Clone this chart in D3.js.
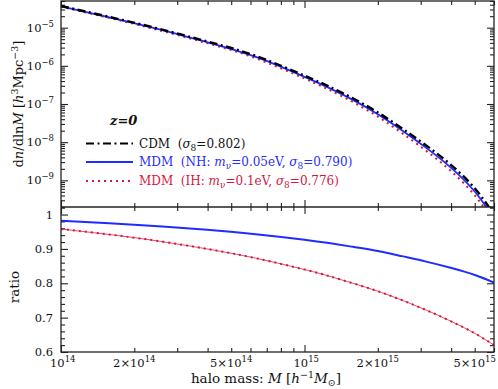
<!DOCTYPE html>
<html>
<head>
<meta charset="utf-8">
<script src="https://cdn.jsdelivr.net/npm/d3@7"></script>
<style>
  html, body { margin: 0; padding: 0; background: #fff; }
  svg { display: block; }
  text { font-family: "DejaVu Serif", "Liberation Serif", serif; fill: #111; }
</style>
</head>
<body>
<svg id="chart" width="498" height="389"></svg>
<script>
// ---------------- data ----------------
const mass = [1.0e14, 1.58e14, 2.51e14, 3.98e14, 6.31e14, 1.0e15, 1.26e15, 1.58e15, 2.0e15, 2.51e15, 3.16e15, 3.98e15, 5.01e15, 6.0e15];
const cdm  = [3.70e-5, 1.91e-5, 9.44e-6, 4.37e-6, 1.82e-6, 5.53e-7, 2.89e-7, 1.41e-7, 6.01e-8, 2.32e-8, 8.20e-9, 2.59e-9, 6.10e-10, 1.25e-10];
const mdmNH = [3.63e-5, 1.86e-5, 9.12e-6, 4.17e-6, 1.71e-6, 5.13e-7, 2.65e-7, 1.28e-7, 5.37e-8, 2.04e-8, 7.08e-9, 2.19e-9, 5.01e-10, 1.00e-10];
const mdmIH = [3.54e-5, 1.80e-5, 8.71e-6, 3.93e-6, 1.58e-6, 4.65e-7, 2.37e-7, 1.13e-7, 4.67e-8, 1.74e-8, 5.92e-9, 1.79e-9, 3.99e-10, 7.75e-11];
const ratioNH = [0.982, 0.9745, 0.966, 0.956, 0.943, 0.927, 0.917, 0.906, 0.894, 0.879, 0.863, 0.845, 0.824, 0.802];
const ratioIH = [0.958, 0.942, 0.923, 0.900, 0.873, 0.840, 0.821, 0.800, 0.777, 0.751, 0.722, 0.690, 0.654, 0.620];

const massMajorTicks = [1e14, 1e15];
const massMinorTicks = [2e14, 3e14, 4e14, 5e14, 6e14, 7e14, 8e14, 9e14, 2e15, 3e15, 4e15, 5e15, 6e15];
const massTickLabels = [
  {v: 1e14, base: "10", exp: "14"},
  {v: 2e14, base: "2×10", exp: "14"},
  {v: 5e14, base: "5×10", exp: "14"},
  {v: 1e15, base: "10", exp: "15"},
  {v: 2e15, base: "2×10", exp: "15"},
  {v: 5e15, base: "5×10", exp: "15"}
];
const nDecades = [1e-5, 1e-6, 1e-7, 1e-8, 1e-9];
const nDecadeExp = ["−5", "−6", "−7", "−8", "−9"];
const ratioMajorTicks = [0.6, 0.7, 0.8, 0.9, 1.0];
const ratioTickLabels = ["0.6", "0.7", "0.8", "0.9", "1"];
const ratioMinorTicks = [0.62,0.64,0.66,0.68,0.72,0.74,0.76,0.78,0.82,0.84,0.86,0.88,0.92,0.94,0.96,0.98,1.02];

// ---------------- layout ----------------
const L = 61, R = 494, T = 1, MID = 207, B = 352;
const BLUE = "#1f2cff", RED = "#d6163f", BLACK = "#000";

const svg = d3.select("#chart");

const x = d3.scaleLog().domain([1e14, 6e15]).range([L, R]);
const yTop = d3.scaleLog().domain([2e-10, 5e-5]).range([MID, T]);
const yRat = d3.scaleLinear().domain([0.6, 1.022]).range([B, MID]);

const nMinorTicks = [];
for (let e = -10; e <= -5; e++) for (let k = 2; k <= 9; k++) {
  const v = k * Math.pow(10, e);
  if (v >= 2e-10 && v <= 5e-5) nMinorTicks.push(v);
}

const defs = svg.append("defs");
defs.append("clipPath").attr("id", "clipTop").append("rect")
  .attr("x", L).attr("y", T).attr("width", R - L).attr("height", MID - T);
defs.append("clipPath").attr("id", "clipRat").append("rect")
  .attr("x", L).attr("y", MID).attr("width", R - L).attr("height", B - MID);

// ---------------- axes ticks ----------------
function ticks(axis, tx, ty, values, size) {
  const g = svg.append("g").attr("transform", `translate(${tx},${ty})`)
    .call(axis.tickValues(values).tickSize(size).tickSizeOuter(0).tickFormat(""));
  g.select(".domain").remove();
  g.selectAll("line").attr("stroke", "#222").attr("stroke-width", 1.1);
  return g;
}
const MAJ = -7, MIN = -4;
ticks(d3.axisLeft(yTop), L, 0, nDecades, MAJ);
ticks(d3.axisLeft(yTop), L, 0, nMinorTicks, MIN);
ticks(d3.axisRight(yTop), R, 0, nDecades, MAJ);
ticks(d3.axisRight(yTop), R, 0, nMinorTicks, MIN);
ticks(d3.axisTop(x), 0, T, massMajorTicks, MAJ);
ticks(d3.axisTop(x), 0, T, massMinorTicks, MIN);
ticks(d3.axisBottom(x), 0, MID, massMajorTicks, MAJ);
ticks(d3.axisBottom(x), 0, MID, massMinorTicks, MIN);
ticks(d3.axisTop(x), 0, MID, massMajorTicks, MAJ);
ticks(d3.axisTop(x), 0, MID, massMinorTicks, MIN);
ticks(d3.axisBottom(x), 0, B, massMajorTicks, MAJ);
ticks(d3.axisBottom(x), 0, B, massMinorTicks, MIN);
ticks(d3.axisLeft(yRat), L, 0, ratioMajorTicks, MAJ);
ticks(d3.axisLeft(yRat), L, 0, ratioMinorTicks, MIN);
ticks(d3.axisRight(yRat), R, 0, ratioMajorTicks, MAJ);
ticks(d3.axisRight(yRat), R, 0, ratioMinorTicks, MIN);

// ---------------- curves ----------------
const idx = d3.range(mass.length);
function lineFor(yScale, arr) {
  return d3.line().x(i => x(mass[i])).y(i => yScale(arr[i])).curve(d3.curveNatural)(idx);
}
const gTop = svg.append("g").attr("clip-path", "url(#clipTop)");
gTop.append("path").attr("d", lineFor(yTop, mdmIH)).attr("fill", "none")
  .attr("stroke", RED).attr("stroke-width", 2).attr("stroke-dasharray", "2,4");
gTop.append("path").attr("d", lineFor(yTop, mdmNH)).attr("fill", "none")
  .attr("stroke", BLUE).attr("stroke-width", 1.8);
gTop.append("path").attr("d", lineFor(yTop, cdm)).attr("fill", "none")
  .attr("stroke", BLACK).attr("stroke-width", 2.4).attr("stroke-dasharray", "8,3.5,2,3.5");

const gRat = svg.append("g").attr("clip-path", "url(#clipRat)");
gRat.append("path").attr("d", lineFor(yRat, ratioIH)).attr("fill", "none")
  .attr("stroke", RED).attr("stroke-width", 1).attr("stroke-opacity", 0.75);
gRat.append("path").attr("d", lineFor(yRat, ratioIH)).attr("fill", "none")
  .attr("stroke", RED).attr("stroke-width", 2).attr("stroke-dasharray", "2,4");
gRat.append("path").attr("d", lineFor(yRat, ratioNH)).attr("fill", "none")
  .attr("stroke", BLUE).attr("stroke-width", 2);

// ---------------- frames ----------------
svg.append("rect").attr("x", L).attr("y", T).attr("width", R - L).attr("height", B - T)
  .attr("fill", "none").attr("stroke", "#222").attr("stroke-width", 1.3);
svg.append("line").attr("x1", L).attr("x2", R).attr("y1", MID).attr("y2", MID)
  .attr("stroke", "#222").attr("stroke-width", 1.3);

// ---------------- tick labels ----------------
const TF = 11.5, SF = 8.5;
nDecades.forEach((v, i) => {
  const t = svg.append("text").attr("x", 54).attr("y", yTop(v) + 4)
    .attr("text-anchor", "end").attr("font-size", TF);
  t.append("tspan").text("10");
  t.append("tspan").attr("dy", -5).attr("font-size", SF).text(nDecadeExp[i]);
});
ratioMajorTicks.forEach((v, i) => {
  svg.append("text").attr("x", 53).attr("y", yRat(v) + 4)
    .attr("text-anchor", "end").attr("font-size", TF).text(ratioTickLabels[i]);
});
massTickLabels.forEach(d => {
  const plain = d.base === "10";
  const t = svg.append("text").attr("y", 367).attr("font-size", TF)
    .attr("x", plain ? x(d.v) - 11 : x(d.v))
    .attr("text-anchor", plain ? "start" : "middle");
  t.append("tspan").text(d.base);
  t.append("tspan").attr("dy", -5).attr("font-size", SF).text(d.exp);
});

// ---------------- axis titles ----------------
const yt = svg.append("text").attr("transform", "translate(23,104) rotate(-90)")
  .attr("text-anchor", "middle").attr("font-size", 13);
yt.append("tspan").text("d");
yt.append("tspan").attr("font-style", "italic").text("n");
yt.append("tspan").text("/dln");
yt.append("tspan").attr("font-style", "italic").text("M");
yt.append("tspan").text(" [");
yt.append("tspan").attr("font-style", "italic").text("h");
yt.append("tspan").attr("dy", -5).attr("font-size", 9.5).text("3");
yt.append("tspan").attr("dy", 5).text("Mpc");
yt.append("tspan").attr("dy", -5).attr("font-size", 9.5).text("−3");
yt.append("tspan").attr("dy", 5).text("]");

svg.append("text").attr("transform", "translate(19,287) rotate(-90)")
  .attr("text-anchor", "middle").attr("font-size", 13.5).text("ratio");

const xt = svg.append("text").attr("x", 266).attr("y", 383)
  .attr("text-anchor", "middle").attr("font-size", 13.5);
xt.append("tspan").text("halo mass: ");
xt.append("tspan").attr("font-style", "italic").text("M");
xt.append("tspan").text(" [");
xt.append("tspan").attr("font-style", "italic").text("h");
xt.append("tspan").attr("dy", -5).attr("font-size", 9.5).text("−1");
xt.append("tspan").attr("dy", 5).attr("font-style", "italic").text("M");
xt.append("tspan").attr("dy", 3).attr("font-size", 9.5).text("⊙");
xt.append("tspan").attr("dy", -3).text("]");

// ---------------- legend ----------------
svg.append("text").attr("x", 110).attr("y", 125).attr("font-size", 13)
  .attr("font-weight", "bold").attr("font-style", "italic").text("z=0");

const legend = [
  {y: 143.5, color: BLACK, dash: "8,3.5,2,3.5", w: 2.2, parts: [["CDM  (", 0], ["σ", 1], ["8", 2], ["=0.802)", 0]]},
  {y: 162, color: BLUE, dash: null, w: 1.8, parts: [["MDM  (NH: ", 0], ["m", 1], ["ν", 2], ["=0.05eV, ", 0], ["σ", 1], ["8", 2], ["=0.790)", 0]]},
  {y: 181, color: RED, dash: "2,4", w: 2, parts: [["MDM  (IH: ", 0], ["m", 1], ["ν", 2], ["=0.1eV, ", 0], ["σ", 1], ["8", 2], ["=0.776)", 0]]}
];
legend.forEach(d => {
  svg.append("line").attr("x1", 86).attr("x2", 133).attr("y1", d.y).attr("y2", d.y)
    .attr("stroke", d.color).attr("stroke-width", d.w)
    .attr("stroke-dasharray", d.dash);
  const t = svg.append("text").attr("x", 139).attr("y", d.y + 4).attr("font-size", 12)
    .style("fill", d.color === BLACK ? "#111" : d.color)
    .style("white-space", "pre");
  let sub = false;
  d.parts.forEach(([s, k]) => {
    const sp = t.append("tspan").text(s);
    if (k === 1) sp.attr("font-style", "italic");
    if (k === 2) { sp.attr("font-size", 9).attr("dy", 3); sub = true; }
    else if (sub) { sp.attr("dy", -3); sub = false; }
  });
});
</script>
</body>
</html>
